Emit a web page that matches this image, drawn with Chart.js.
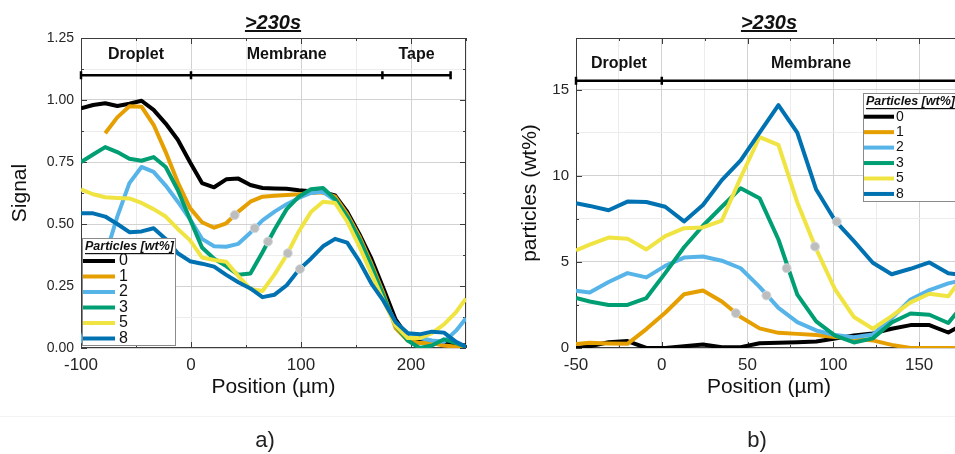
<!DOCTYPE html>
<html>
<head>
<meta charset="utf-8">
<script src="https://cdn.jsdelivr.net/npm/chart.js@4.4.1/dist/chart.umd.min.js"></script>
<style>
    html, body { margin: 0; padding: 0; background: #fff; overflow: hidden; }
    body { width: 955px; height: 454px; position: relative; font-family: "Liberation Sans", Arial, sans-serif; }
    canvas { position: absolute; top: 0; }
    #chartA { left: 0; }
    #chartB { left: 480px; }
    .title { position: absolute; top: 10px; line-height: 24px; font-size: 20px; font-weight: bold; font-style: italic; text-decoration: underline; transform: translateX(-50%); color: #111; white-space: nowrap; }
    .tag { position: absolute; top: 427px; line-height: 26px; font-size: 22px; transform: translateX(-50%); color: #222; }
    .sep { position: absolute; left: 0; top: 416px; width: 955px; height: 1px; background: #f3f3f3; }
</style>
</head>
<body>
<canvas id="chartA" width="480" height="454"></canvas>
<canvas id="chartB" width="500" height="454"></canvas>
<div class="title" style="left:273px">&gt;230s</div>
<div class="title" style="left:769px">&gt;230s</div>
<div class="sep"></div>
<div class="tag" style="left:265px">a)</div>
<div class="tag" style="left:757px">b)</div>

<script>
/*=========================== data ===========================*/
const seriesLabels = ['0', '1', '2', '3', '5', '8'];
const seriesColors = ['#000000', '#E69F00', '#56B4E9', '#009E73', '#F0E442', '#0072B2'];
const legendTitle = 'Particles [wt%]';

// a) Signal vs position
const posA = [-100, -89, -78, -67, -56, -45, -34, -23, -12, -1, 10, 21, 32, 43, 54, 65, 76, 87, 98, 109, 120, 131, 142, 153, 164, 175, 186, 197, 208, 219, 230, 241, 250];
const sigP0 = [0.966, 0.98, 0.987, 0.976, 0.985, 0.997, 0.96, 0.905, 0.84, 0.75, 0.665, 0.648, 0.68, 0.683, 0.657, 0.645, 0.643, 0.642, 0.636, 0.632, 0.628, 0.615, 0.55, 0.46, 0.36, 0.24, 0.115, 0.045, 0.025, 0.02, 0.02, 0.015, 0.01];
const sigP1 = [null, null, 0.866, 0.93, 0.975, 0.973, 0.9, 0.79, 0.668, 0.565, 0.507, 0.485, 0.503, 0.55, 0.59, 0.61, 0.614, 0.617, 0.62, 0.625, 0.628, 0.61, 0.54, 0.45, 0.34, 0.22, 0.08, 0.03, 0.02, 0.02, 0.01, 0.005, 0.0];
const sigP2 = [0.02, 0.2, 0.37, 0.53, 0.665, 0.73, 0.71, 0.655, 0.59, 0.52, 0.44, 0.41, 0.408, 0.42, 0.465, 0.515, 0.55, 0.58, 0.605, 0.625, 0.63, 0.595, 0.52, 0.43, 0.32, 0.2, 0.1, 0.06, 0.04, 0.03, 0.025, 0.07, 0.12];
const sigP3 = [0.75, 0.78, 0.81, 0.79, 0.763, 0.755, 0.77, 0.73, 0.637, 0.52, 0.405, 0.36, 0.33, 0.295, 0.3, 0.386, 0.478, 0.56, 0.61, 0.64, 0.645, 0.6, 0.53, 0.44, 0.33, 0.21, 0.09, 0.03, 0.0, 0.01, 0.035, 0.02, 0.005];
const sigP5 = [0.64, 0.62, 0.608, 0.605, 0.603, 0.585, 0.56, 0.53, 0.48, 0.435, 0.365, 0.355, 0.348, 0.29, 0.238, 0.23, 0.297, 0.375, 0.47, 0.548, 0.59, 0.585, 0.51, 0.41, 0.3, 0.19, 0.09, 0.04, 0.04, 0.06, 0.095, 0.145, 0.2];
const sigP8 = [0.543, 0.543, 0.53, 0.5, 0.467, 0.47, 0.483, 0.44, 0.382, 0.35, 0.34, 0.328, 0.295, 0.265, 0.24, 0.205, 0.215, 0.253, 0.315, 0.36, 0.41, 0.44, 0.425, 0.35, 0.26, 0.19, 0.105, 0.06, 0.055, 0.066, 0.062, 0.025, 0.005];
const markXA = [39.7, 57.9, 70, 88, 99];
const markYA = [0.536, 0.483, 0.429, 0.382, 0.318];
const regionEdgesA = [-100, 0, 174, 236];
const regionNamesA = ['Droplet', 'Membrane', 'Tape'];

// b) particles vs position
const posB = [-50, -42, -31, -20, -9, 2, 13, 24, 35, 46, 57, 68, 79, 90, 101, 112, 123, 134, 145, 156, 167, 178];
const ptcP0 = [0.0, 0.1, 0.33, 0.4, 0.0, 0.0, 0.1, 0.2, 0.04, 0.05, 0.28, 0.3, 0.33, 0.38, 0.55, 0.72, 0.85, 1.12, 1.33, 1.33, 0.9, 1.5];
const ptcP1 = [0.23, 0.3, 0.26, 0.24, 1.1, 2.05, 3.12, 3.34, 2.7, 1.8, 1.14, 0.88, 0.82, 0.75, 0.64, 0.55, 0.44, 0.18, 0, 0, 0, 0];
const ptcP2 = [3.33, 3.22, 3.83, 4.35, 4.1, 4.77, 5.25, 5.31, 5.07, 4.63, 3.55, 2.33, 1.5, 1.02, 0.75, 0.62, 0.78, 1.72, 2.82, 3.36, 3.75, 4.0];
const ptcP3 = [2.9, 2.7, 2.5, 2.5, 2.9, 4.35, 5.85, 7.1, 8.2, 9.28, 8.7, 6.3, 3.1, 1.55, 0.72, 0.32, 0.56, 1.48, 2.0, 1.93, 1.45, 2.8];
const ptcP5 = [5.66, 6.0, 6.41, 6.35, 5.72, 6.5, 6.96, 7.0, 7.4, 9.9, 12.25, 11.8, 8.45, 5.75, 3.4, 1.8, 1.12, 1.85, 2.65, 3.15, 3.0, 4.5];
const ptcP8 = [8.4, 8.25, 8.0, 8.5, 8.48, 8.2, 7.35, 8.3, 9.75, 10.9, 12.5, 14.1, 12.5, 9.2, 7.4, 6.2, 4.95, 4.28, 4.6, 4.97, 4.34, 4.2];
const markXB = [43.2, 61, 72.8, 89.3, 102];
const markYB = [2.02, 3.05, 4.63, 5.89, 7.34];
const regionEdgesB = [-50, 0, 174];
const regionNamesB = ['Droplet', 'Membrane'];

/*=========================== helpers ===========================*/
Chart.defaults.font.family = '"Liberation Sans", Arial, sans-serif';
Chart.defaults.color = '#262626';

function isMajor(v, step) {
    const r = v / step;
    return Math.abs(r - Math.round(r)) < 1e-6;
}

function lineSet(i, xs, ys) {
    return {
        label: seriesLabels[i],
        data: xs.map((x, k) => ({ x: x, y: ys[k] })),
        borderColor: seriesColors[i],
        backgroundColor: seriesColors[i],
        borderWidth: 4,
        borderJoinStyle: 'round',
        pointRadius: 0,
        tension: 0,
        spanGaps: false,
        order: 10 - i
    };
}

function markerSet(xs, ys) {
    return {
        isMarker: true,
        data: xs.map((x, k) => ({ x: x, y: ys[k] })),
        showLine: false,
        pointRadius: 4.5,
        pointBackgroundColor: '#bdbdbd',
        pointBorderColor: '#d3dbe0',
        pointBorderWidth: 1,
        order: 0
    };
}

// frame round the plot with inward ticks, matlab style
const boxFrame = {
    id: 'boxFrame',
    beforeDatasetsDraw(chart, args, o) {
        const { ctx, chartArea: a, scales: { x, y } } = chart;
        ctx.save();
        ctx.strokeStyle = '#3c3c3c';
        ctx.lineWidth = 1;
        ctx.strokeRect(a.left + 0.5, a.top + 0.5, a.right - a.left - 1, a.bottom - a.top - 1);
        ctx.beginPath();
        for (const t of x.ticks) {
            const px = Math.round(x.getPixelForValue(t.value)) + 0.5;
            const len = isMajor(t.value, o.majorX) ? 6 : 3;
            ctx.moveTo(px, a.bottom); ctx.lineTo(px, a.bottom - len);
            ctx.moveTo(px, a.top); ctx.lineTo(px, a.top + len);
        }
        for (const t of y.ticks) {
            const py = Math.round(y.getPixelForValue(t.value)) + 0.5;
            const len = isMajor(t.value, o.majorY) ? 6 : 3;
            ctx.moveTo(a.left, py); ctx.lineTo(a.left + len, py);
            ctx.moveTo(a.right, py); ctx.lineTo(a.right - len, py);
        }
        ctx.stroke();
        ctx.restore();
    }
};

// Droplet / Membrane / Tape bar
const regionBar = {
    id: 'regionBar',
    afterDatasetsDraw(chart, args, o) {
        const { ctx, scales: { x, y } } = chart;
        const yy = y.getPixelForValue(o.lineAt);
        const ly = y.getPixelForValue(o.labelAt);
        const xs = o.edges.map(v => x.getPixelForValue(v));
        ctx.save();
        ctx.strokeStyle = '#000';
        ctx.lineWidth = 2.5;
        ctx.beginPath();
        ctx.moveTo(xs[0], yy);
        ctx.lineTo(xs[xs.length - 1], yy);
        for (const px of xs) {
            ctx.moveTo(px, yy - 4);
            ctx.lineTo(px, yy + 4);
        }
        ctx.stroke();
        ctx.fillStyle = '#111';
        ctx.font = 'bold 16px "Liberation Sans", Arial, sans-serif';
        ctx.textAlign = 'center';
        ctx.textBaseline = 'middle';
        o.names.forEach((n, i) => {
            ctx.fillText(n, (xs[i] + xs[i + 1]) / 2, ly);
        });
        ctx.restore();
    }
};

// legend box inside the plot
const boxLegend = {
    id: 'boxLegend',
    afterDraw(chart, args, o) {
        const { ctx } = chart;
        const items = chart.data.datasets.filter(d => !d.isMarker);
        ctx.save();
        ctx.fillStyle = '#fff';
        ctx.fillRect(o.x, o.y, o.w, o.h);
        ctx.strokeStyle = '#8a8a8a';
        ctx.lineWidth = 1;
        ctx.strokeRect(o.x + 0.5, o.y + 0.5, o.w - 1, o.h - 1);

        ctx.fillStyle = '#111';
        ctx.textAlign = 'left';
        ctx.textBaseline = 'middle';
        ctx.font = 'bold italic 12.5px "Liberation Sans", Arial, sans-serif';
        ctx.fillText(legendTitle, o.x + 3, o.titleY);
        const tw = ctx.measureText(legendTitle).width;
        ctx.fillRect(o.x + 3, o.titleY + 6, tw, 1.2);

        ctx.font = o.itemSize + 'px "Liberation Sans", Arial, sans-serif';
        items.forEach((d, i) => {
            const yy = o.rowY + i * o.rowStep;
            ctx.strokeStyle = d.borderColor;
            ctx.lineWidth = 4;
            ctx.beginPath();
            ctx.moveTo(o.x + o.lineL, yy);
            ctx.lineTo(o.x + o.lineR, yy);
            ctx.stroke();
            ctx.fillStyle = '#111';
            ctx.fillText(d.label, o.x + o.textX, yy);
        });
        ctx.restore();
    }
};

function axisX(min, max, step, major, title) {
    return {
        type: 'linear', min: min, max: max,
        ticks: {
            stepSize: step, autoSkip: false, maxRotation: 0, padding: 7,
            font: { size: 17 }, color: '#262626',
            callback: v => isMajor(v, major) ? String(v) : ''
        },
        grid: {
            drawTicks: false,
            color: c => (c.tick && isMajor(c.tick.value, major)) ? '#d2d2d2' : '#ececec'
        },
        border: { display: false },
        title: { display: true, text: title, font: { size: 21 }, color: '#111', padding: { top: 4, bottom: 4 } },
        afterFit: s => { s.height = 56; }
    };
}

function axisY(min, max, step, major, title, size, width, fmt) {
    return {
        type: 'linear', min: min, max: max,
        ticks: {
            stepSize: step, autoSkip: false, padding: 7,
            font: { size: size }, color: '#262626',
            callback: v => isMajor(v, major) ? fmt(v) : ''
        },
        grid: {
            drawTicks: false,
            color: c => (c.tick && isMajor(c.tick.value, major)) ? '#d2d2d2' : '#ececec'
        },
        border: { display: false },
        title: { display: true, text: title, font: { size: 21 }, color: '#111', padding: { top: 4, bottom: 4 } },
        afterFit: s => { s.width = width; }
    };
}

/*=========================== chart a) ===========================*/
const sigSeries = [sigP0, sigP1, sigP2, sigP3, sigP5, sigP8];
new Chart(document.getElementById('chartA').getContext('2d'), {
    type: 'line',
    data: {
        datasets: sigSeries.map((s, i) => lineSet(i, posA, s)).concat([markerSet(markXA, markYA)])
    },
    options: {
        responsive: false,
        animation: false,
        events: [],
        layout: { padding: { top: 38, right: 14, bottom: 50, left: 4 } },
        plugins: {
            legend: { display: false },
            tooltip: { enabled: false },
            boxFrame: { majorX: 100, majorY: 0.25 },
            regionBar: { edges: regionEdgesA, names: regionNamesA, lineAt: 1.1, labelAt: 1.185 },
            boxLegend: { x: 82, y: 238, w: 94, h: 108, titleY: 247, rowY: 261, rowStep: 15.5, lineL: 1, lineR: 33, textX: 37, itemSize: 16 }
        },
        scales: {
            x: axisX(-100, 250, 50, 100, 'Position (µm)'),
            y: axisY(0, 1.25, 0.125, 0.25, 'Signal', 14, 77, v => v.toFixed(2))
        }
    },
    plugins: [boxFrame, regionBar, boxLegend]
});

/*=========================== chart b) ===========================*/
const ptcSeries = [ptcP0, ptcP1, ptcP2, ptcP3, ptcP5, ptcP8];
new Chart(document.getElementById('chartB').getContext('2d'), {
    type: 'line',
    data: {
        datasets: ptcSeries.map((s, i) => lineSet(i, posB, s)).concat([markerSet(markXB, markYB)])
    },
    options: {
        responsive: false,
        animation: false,
        events: [],
        layout: { padding: { top: 38, right: 18, bottom: 50, left: 34 } },
        plugins: {
            legend: { display: false },
            tooltip: { enabled: false },
            boxFrame: { majorX: 50, majorY: 5 },
            regionBar: { edges: regionEdgesB, names: regionNamesB, lineAt: 15.52, labelAt: 16.5 },
            boxLegend: { x: 383, y: 93, w: 100, h: 109, titleY: 102, rowY: 116.7, rowStep: 15.45, lineL: 1, lineR: 31, textX: 33, itemSize: 14 }
        },
        scales: {
            x: axisX(-50, 175, 25, 50, 'Position (µm)'),
            y: axisY(0, 18, 2.5, 5, 'particles (wt%)', 15, 62, v => String(v))
        }
    },
    plugins: [boxFrame, regionBar, boxLegend]
});
</script>
</body>
</html>
